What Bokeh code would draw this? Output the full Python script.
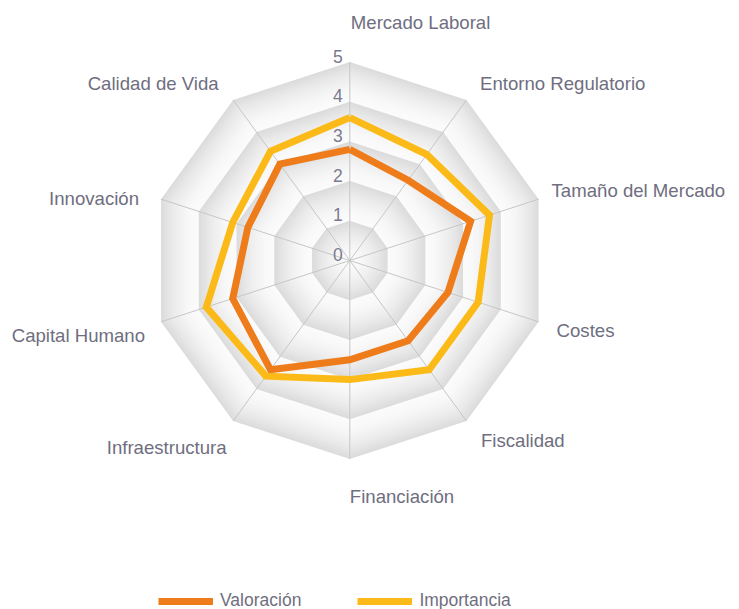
import numpy as np
from bokeh.plotting import figure
from bokeh.models import Range1d, Legend, LegendItem
from bokeh.core.properties import value
from bokeh.embed import file_html
from bokeh.resources import INLINE

# ---- data ----
categories = ["Mercado Laboral", "Entorno Regulatorio", "Tamaño del Mercado", "Costes",
              "Fiscalidad", "Financiación", "Infraestructura", "Capital Humano",
              "Innovación", "Calidad de Vida"]
valoracion = [2.8, 2.5, 3.2, 2.6, 2.5, 2.5, 3.4, 3.1, 2.7, 3.0]
importancia = [3.6, 3.3, 3.7, 3.4, 3.4, 3.0, 3.6, 3.8, 3.1, 3.4]
levels = [0, 1, 2, 3, 4, 5]
tick_labels = ["0", "1", "2", "3", "4", "5"]
series_names = ["Valoración", "Importancia"]

# ---- layout / style ----
W, H = 739, 609
UNIT = 39.7            # pixels per value unit
CX, CY = 349.3, 260.0  # pixel position of the centre
FONT = "Liberation Sans"
TXT = "#6f6e80"
ORANGE = "#EF7C1A"
YELLOW = "#FBBA17"

p = figure(width=W, height=H,
           x_range=Range1d(-CX / UNIT, (W - CX) / UNIT),
           y_range=Range1d(-(H - CY) / UNIT, CY / UNIT),
           output_backend="svg", toolbar_location=None,
           x_axis_type=None, y_axis_type=None, min_border=0,
           outline_line_color=None, background_fill_color="white",
           border_fill_color="white")

n = len(categories)
theta = np.arange(n) * 2 * np.pi / n
sn, cs = np.sin(theta), np.cos(theta)
rmax = levels[-1]

# ---- graded grey bands (dark at the outer edge of each band) ----
step = 0.04
xs, ys, cols = [], [], []
for r in np.arange(rmax, 0, -step):
    mid = r - step / 2
    frac = mid - np.floor(mid)
    g = int(round(251 - 32 * frac ** 1.7))
    cols.append("#%02x%02x%02x" % (g, g, g))
    xs.append(list(r * sn))
    ys.append(list(r * cs))
p.patches(xs, ys, fill_color=cols, line_color=None)

# ---- spokes ----
p.segment(x0=np.zeros(n), y0=np.zeros(n), x1=rmax * sn, y1=rmax * cs,
          line_color="#c6c6c6", line_width=1)

# ---- scale labels ----
p.text(x=[0] * len(levels), y=levels, text=tick_labels, text_align="right",
       text_baseline="middle", x_offset=-7, y_offset=-6,
       text_font=value(FONT), text_font_size="17.5px", text_color="#7b7a8e")

# ---- series ----
def closed(vals):
    v = np.array(vals, dtype=float)
    x = list(v * sn) + [v[0] * sn[0]]
    y = list(v * cs) + [v[0] * cs[0]]
    return x, y

vx, vy = closed(valoracion)
ix, iy = closed(importancia)
r1 = p.line(vx, vy, line_color=ORANGE, line_width=7, line_join="miter")
r2 = p.line(ix, iy, line_color=YELLOW, line_width=7, line_join="miter")

# ---- category labels ----
rl = rmax + 0.45
lab_dx = [1, 3, -4, 1, 4, 0, 4, 1, -5, -4]
lab_dy = [-22, -2, -3, 3, 5, 20, 12, 8, 5, -2]
aligns = ["left"] * 6 + ["right"] * 4
p.text(x=rl * sn, y=rl * cs, text=categories, text_align=aligns,
       text_baseline="middle", x_offset=lab_dx, y_offset=lab_dy,
       text_font=value(FONT), text_font_size="18.6px", text_color=TXT)

# ---- legend ----
legend = Legend(items=[LegendItem(label=series_names[0], renderers=[r1]),
                       LegendItem(label=series_names[1], renderers=[r2])],
                orientation="horizontal", location=(158, -2),
                glyph_width=55, glyph_height=20, label_standoff=7, spacing=56,
                padding=0, margin=0, border_line_color=None,
                background_fill_alpha=0, label_text_font=FONT,
                label_text_font_size="17.5px", label_text_color=TXT)
p.add_layout(legend)

open("out.html", "w").write(file_html(p, INLINE))
